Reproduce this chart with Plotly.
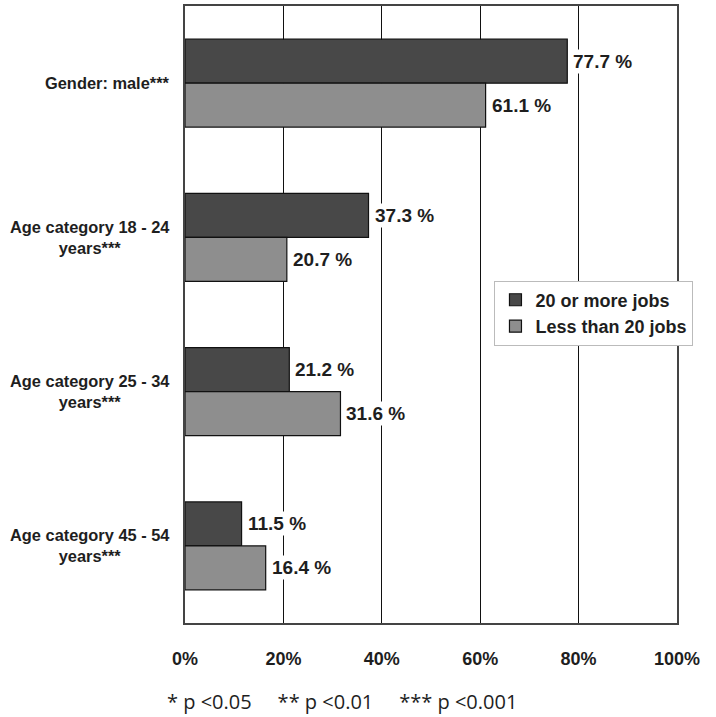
import plotly.graph_objects as go

categories = ["Gender: male***", "Age category 18 - 24<br>years***",
              "Age category 25 - 34<br>years***", "Age category 45 - 54<br>years***"]
cat_keys = ["male", "18-24", "25-34", "45-54"]
series_names = ["20 or more jobs", "Less than 20 jobs"]
more_jobs = [77.7, 37.3, 21.2, 11.5]
less_jobs = [61.1, 20.7, 31.6, 16.4]
x_ticks = [0, 20, 40, 60, 80, 100]
x_tick_labels = ["0%", "20%", "40%", "60%", "80%", "100%"]
footnote = "* p <0.05     ** p <0.01     *** p <0.001"

colors = ["#484848", "#8e8e8e"]
FONT = "Liberation Sans, Arial, sans-serif"

fig = go.Figure()
for name, vals, col in zip(series_names, [more_jobs, less_jobs], colors):
    fig.add_trace(go.Bar(
        y=cat_keys, x=vals, name=name, orientation="h",
        marker=dict(color=col, line=dict(color="#111", width=1.2)),
    ))

annotations = []
# value labels
for vals, shift in [(more_jobs, 22), (less_jobs, -22)]:
    for k, v in zip(cat_keys, vals):
        annotations.append(dict(
            x=v, y=k, xref="x", yref="y", text=f"<b>{v} %</b>",
            showarrow=False, xanchor="left", yanchor="middle", xshift=4, yshift=shift,
            bgcolor="white", borderpad=1,
            font=dict(family=FONT, size=19, color="#1e1e1e"),
        ))
# category labels
for k, lab in zip(cat_keys, categories):
    annotations.append(dict(
        x=0, y=k, xref="paper", yref="y", text=f"<b>{lab}</b>",
        showarrow=False, xanchor="right", yanchor="middle", xshift=-13, align="center",
        font=dict(family=FONT, size=16.4, color="#1e1e1e"),
    ))
annotations.append(dict(
    x=0.32, y=-0.128, xref="paper", yref="paper", text=footnote, showarrow=False,
    xanchor="center", yanchor="middle",
    font=dict(family="Open Sans, Noto Sans, sans-serif", size=20, color="#1e1e1e"),
))

fig.update_layout(
    width=716, height=717,
    margin=dict(l=185, r=39, t=4, b=94),
    paper_bgcolor="white", plot_bgcolor="white",
    barmode="group", bargap=0.43, bargroupgap=0,
    showlegend=True,
    legend=dict(x=0.629, y=0.555, xanchor="left", yanchor="top",
                bgcolor="white", bordercolor="#bbb", borderwidth=1,
                font=dict(family=FONT, size=18, color="#1e1e1e", weight="bold"),
                traceorder="normal", itemwidth=30, tracegroupgap=0),
    annotations=annotations,
    xaxis=dict(range=[0, 100], tickvals=x_ticks,
               ticktext=[f"<b>{t}</b>" for t in x_tick_labels],
               showgrid=True, gridcolor="#111", gridwidth=1.2,
               showline=True, linecolor="#444", linewidth=2, mirror=True,
               ticks="", ticklabelstandoff=18,
               tickfont=dict(family=FONT, size=18, color="#1e1e1e"), zeroline=False),
    yaxis=dict(categoryorder="array", categoryarray=cat_keys, autorange="reversed",
               showticklabels=False, showgrid=False,
               showline=True, linecolor="#444", linewidth=2, mirror=True, ticks=""),
)

fig.write_html("out.html")
